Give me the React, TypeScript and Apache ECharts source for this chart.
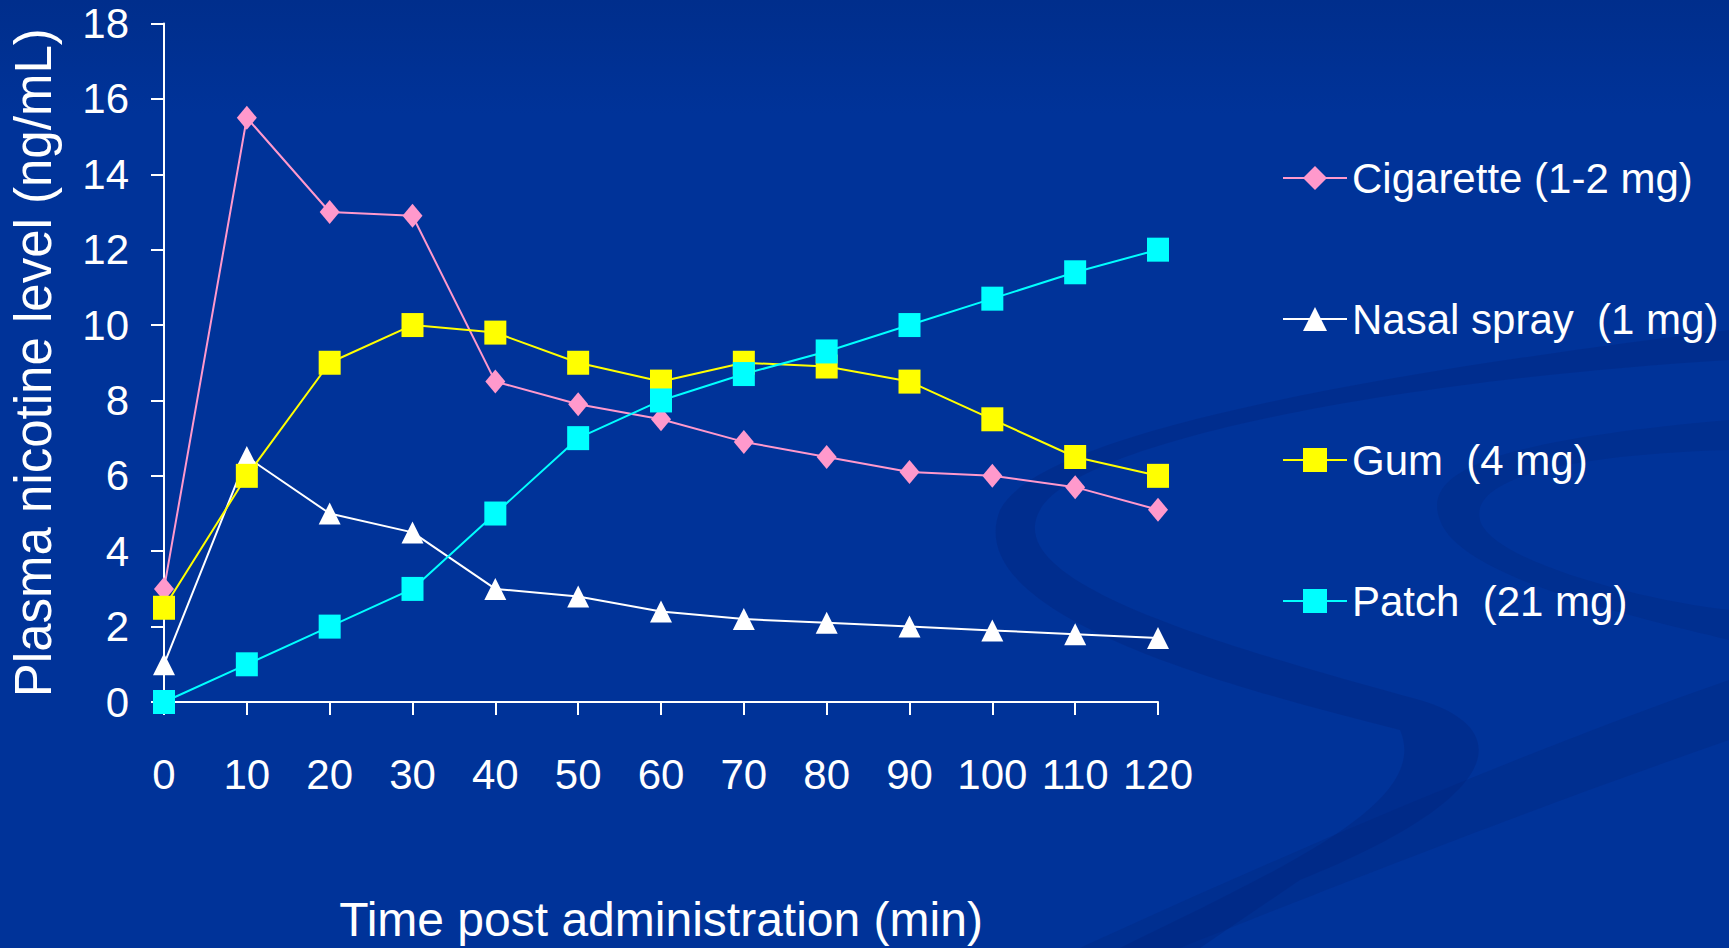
import React, { useEffect, useRef } from "react";
import * as echarts from "echarts";

// Sampling times (min) and plasma nicotine levels (ng/mL)
const TIMES = [0, 10, 20, 30, 40, 50, 60, 70, 80, 90, 100, 110, 120];
const CIGARETTE = [3.0, 15.5, 13.0, 12.9, 8.5, 7.9, 7.5, 6.9, 6.5, 6.1, 6.0, 5.7, 5.1];
const NASAL_SPRAY = [1.0, 6.5, 5.0, 4.5, 3.0, 2.8, 2.4, 2.2, 2.1, 2.0, 1.9, 1.8, 1.7];
const GUM = [2.5, 6.0, 9.0, 10.0, 9.8, 9.0, 8.5, 9.0, 8.9, 8.5, 7.5, 6.5, 6.0];
const PATCH = [0, 1.0, 2.0, 3.0, 5.0, 7.0, 8.0, 8.7, 9.3, 10.0, 10.7, 11.4, 12.0];

const SERIES_NAMES = [
  "Cigarette (1-2 mg)",
  "Nasal spray  (1 mg)",
  "Gum  (4 mg)",
  "Patch  (21 mg)",
];

const FONT = "'Liberation Sans', Arial, Helvetica, sans-serif";

// Decorative swoosh bands in the slide background
const SWOOSH_A =
  "M 1729 360 C 1400 380 1080 440 1040 510 C 1000 580 1200 640 1420 700 C 1520 730 1500 800 1300 880 L 1200 948 L 1120 948 C 1300 860 1430 800 1400 730 C 1200 680 960 610 1000 510 C 1040 430 1400 370 1729 330 Z";
const SWOOSH_B =
  "M 1729 420 C 1500 440 1420 470 1440 520 C 1460 580 1650 620 1729 640 L 1729 610 C 1640 600 1490 560 1480 520 C 1470 480 1560 455 1729 450 Z";
const SWOOSH_C =
  "M 1729 680 L 1729 740 C 1500 820 1300 900 1180 948 L 1080 948 C 1250 870 1500 760 1729 680 Z";

echarts.graphic.registerShape("swooshA", echarts.graphic.extendPath(SWOOSH_A, {}));
echarts.graphic.registerShape("swooshB", echarts.graphic.extendPath(SWOOSH_B, {}));
echarts.graphic.registerShape("swooshC", echarts.graphic.extendPath(SWOOSH_C, {}));

const pairs = (vals: number[]) => TIMES.map((t, i) => [t, vals[i]]);

export default function App() {
  const ref = useRef<HTMLDivElement>(null);

  useEffect(() => {
    if (!ref.current) return;
    const chart = echarts.init(ref.current, undefined, { renderer: "svg" });

    const axisColor = "#FFFFFF";
    const lineSeries = (
      name: string,
      vals: number[],
      color: string,
      symbol: string,
      size: number[]
    ) => ({
      type: "line",
      name,
      data: pairs(vals),
      symbol,
      symbolSize: size,
      showAllSymbol: true,
      lineStyle: { color, width: 2 },
      itemStyle: { color, borderWidth: 0 },
      emphasis: { disabled: true },
    });

    chart.setOption({
      animation: false,
      backgroundColor: "transparent",
      textStyle: { fontFamily: FONT },
      graphic: [
        { type: "swooshA", x: 0, y: 0, z: -10, silent: true, style: { fill: "rgba(0,34,118,0.3)" } },
        { type: "swooshB", x: 0, y: 0, z: -10, silent: true, style: { fill: "rgba(0,34,118,0.25)" } },
        { type: "swooshC", x: 0, y: 0, z: -10, silent: true, style: { fill: "rgba(0,34,118,0.25)" } },
      ],
      grid: { left: 161, top: 23.5, width: 997, height: 678.5 },
      xAxis: {
        type: "value",
        min: 0,
        max: 120,
        interval: 10,
        name: "Time post administration (min)",
        nameLocation: "middle",
        nameGap: 193,
        nameTextStyle: { color: "#FFFFFF", fontSize: 48, fontFamily: FONT },
        axisLine: { show: true, lineStyle: { color: axisColor, width: 2 } },
        axisTick: { show: true, inside: false, length: 13, lineStyle: { color: axisColor, width: 2 } },
        axisLabel: { color: "#FFFFFF", fontSize: 42, margin: 51, fontFamily: FONT },
        splitLine: { show: false },
      },
      yAxis: {
        type: "value",
        min: 0,
        max: 18,
        interval: 2,
        name: "Plasma nicotine level (ng/mL)",
        nameLocation: "middle",
        nameGap: 105,
        nameTextStyle: { color: "#FFFFFF", fontSize: 51, fontFamily: FONT },
        axisLine: { show: true, lineStyle: { color: axisColor, width: 2 } },
        axisTick: { show: true, inside: false, length: 13, lineStyle: { color: axisColor, width: 2 } },
        axisLabel: { color: "#FFFFFF", fontSize: 42, margin: 35, fontFamily: FONT },
        splitLine: { show: false },
      },
      legend: {
        orient: "vertical",
        left: 1277,
        top: 148,
        itemWidth: 64,
        itemHeight: 30,
        itemGap: 91,
        selectedMode: false,
        data: SERIES_NAMES,
        textStyle: { color: "#FFFFFF", fontSize: 42, lineHeight: 50, fontFamily: FONT },
      },
      series: [
        lineSeries(SERIES_NAMES[0], CIGARETTE, "#FF99CC", "diamond", [20, 24]),
        lineSeries(SERIES_NAMES[1], NASAL_SPRAY, "#FFFFFF", "triangle", [22, 22]),
        lineSeries(SERIES_NAMES[2], GUM, "#FFFF00", "rect", [22, 24]),
        lineSeries(SERIES_NAMES[3], PATCH, "#00FFFF", "rect", [22, 24]),
      ],
    });

    return () => chart.dispose();
  }, []);

  return (
    <div
      style={{
        position: "fixed",
        left: 0,
        top: 0,
        width: 1729,
        height: 948,
        background: "linear-gradient(180deg, #002E8C 0%, #003399 12%, #003399 100%)",
      }}
    >
      <div ref={ref} style={{ width: 1729, height: 948 }} />
    </div>
  );
}
